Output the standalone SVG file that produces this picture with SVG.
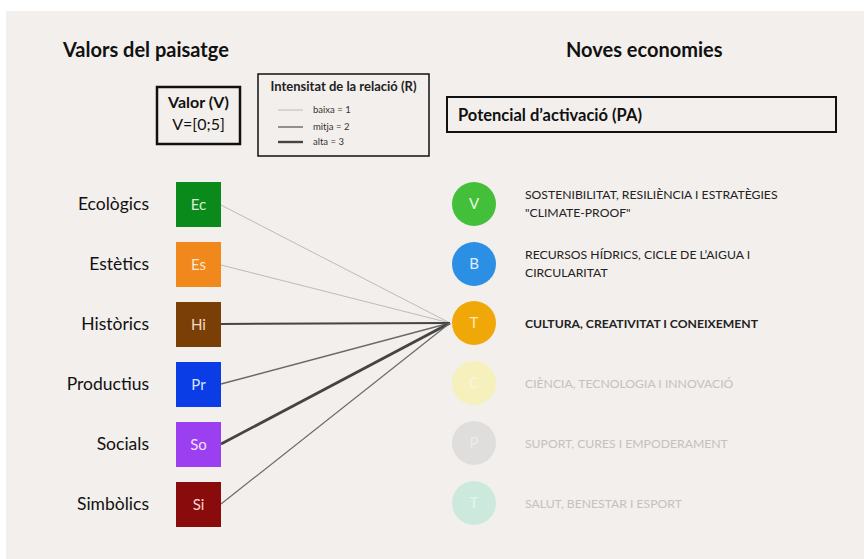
<svg xmlns="http://www.w3.org/2000/svg" width="864" height="559" viewBox="0 0 864 559">
<style>
.bg{fill:#f3efec}
.title{font-family:Lato,"Open Sans",sans-serif;font-weight:bold;font-size:20px;fill:#111}
text.lbl{font-family:Lato,"Open Sans",sans-serif;font-size:17.5px;fill:#111;text-anchor:end}
text.in{font-family:Lato,"Open Sans",sans-serif;font-size:15px;text-anchor:middle}
text.eco{font-family:Lato,"Open Sans",sans-serif;font-size:12.2px;fill:#222}
text.fade{fill:#c4c1bf}
.frame{fill:none;stroke:#111}
.leg{font-family:Lato,"Open Sans",sans-serif;font-size:9.5px;fill:#333}
.c1{stroke:#bdbab8;stroke-width:1;fill:none}
.c2{stroke:#6a6866;stroke-width:1.4;fill:none}
.c3{stroke:#444;stroke-width:2.4;fill:none}
</style>
<rect x="0" y="0" width="864" height="559" fill="#ffffff"/>
<rect class="bg" x="6" y="11" width="858" height="548"/>
<text class="title" x="63" y="57">Valors del paisatge</text>
<text class="title" x="566" y="57">Noves economies</text>
<g id="valor-box">
<rect class="frame" x="157" y="87" width="83" height="57" stroke-width="2.5"/>
<text x="198.5" y="108" font-family="Lato,'Open Sans',sans-serif" font-size="16" font-weight="bold" text-anchor="middle" fill="#111">Valor (V)</text>
<text x="198.5" y="130" font-family="Lato,'Open Sans',sans-serif" font-size="16" text-anchor="middle" fill="#111">V=[0;5]</text>
</g>
<g id="legend">
<rect class="frame" x="258" y="74" width="171" height="82" stroke-width="1.5"/>
<text x="343.5" y="91" font-family="Lato,'Open Sans',sans-serif" font-size="13" font-weight="bold" text-anchor="middle" fill="#222">Intensitat de la relació (R)</text>
<line class="c1" x1="278" y1="110" x2="303" y2="110"/>
<text class="leg" x="313" y="113">baixa = 1</text>
<line class="c2" x1="278" y1="127" x2="303" y2="127"/>
<text class="leg" x="313" y="130">mitja = 2</text>
<line class="c3" x1="278" y1="142" x2="303" y2="142"/>
<text class="leg" x="313" y="145">alta = 3</text>
</g>
<g id="pa-box">
<rect class="frame" x="447" y="97" width="389" height="35" stroke-width="2"/>
<text x="458" y="121" font-family="Lato,'Open Sans',sans-serif" font-size="16.5" font-weight="bold" fill="#111">Potencial d’activació (PA)</text>
</g>
<g id="connectors">
<line class="c1" x1="221" y1="205" x2="450" y2="323"/>
<line class="c1" x1="221" y1="265" x2="450" y2="323"/>
<line class="c3" x1="221" y1="324" x2="450" y2="323" style="stroke-width:2"/>
<line class="c2" x1="221" y1="384" x2="450" y2="323"/>
<line class="c3" x1="221" y1="444" x2="450" y2="323" style="stroke-width:2.8"/>
<line class="c2" x1="221" y1="504" x2="450" y2="323" style="stroke-width:1.2"/>
</g>
<g id="ecologics"><text class="lbl" x="149" y="210">Ecològics</text><rect x="176" y="182" width="45" height="45" fill="#0b8a1c"/><text class="in" x="198.5" y="210" fill="#d8f0d4">Ec</text></g>
<g id="estetics"><text class="lbl" x="149" y="270">Estètics</text><rect x="176" y="242" width="45" height="45" fill="#f0881c"/><text class="in" x="198.5" y="270" fill="#fde6cc">Es</text></g>
<g id="historics"><text class="lbl" x="149" y="330">Històrics</text><rect x="176" y="302" width="45" height="45" fill="#7a3f06"/><text class="in" x="198.5" y="330" fill="#f3dcc6">Hi</text></g>
<g id="productius"><text class="lbl" x="149" y="390">Productius</text><rect x="176" y="362" width="45" height="45" fill="#0b3de6"/><text class="in" x="198.5" y="390" fill="#dce2ff">Pr</text></g>
<g id="socials"><text class="lbl" x="149" y="450">Socials</text><rect x="176" y="422" width="45" height="45" fill="#9b3ff0"/><text class="in" x="198.5" y="450" fill="#f1e2ff">So</text></g>
<g id="simbolics"><text class="lbl" x="149" y="510">Simbòlics</text><rect x="176" y="482" width="45" height="45" fill="#8a0b0b"/><text class="in" x="198.5" y="510" fill="#fcd8d0">Si</text></g>
<g id="eco-v"><circle cx="474" cy="204" r="22" fill="#43bf3a"/><text class="in" x="474" y="209" fill="#e4f7e0">V</text>
<text class="eco" x="525" y="199">SOSTENIBILITAT, RESILIÈNCIA I ESTRATÈGIES</text><text class="eco" x="525" y="217">"CLIMATE-PROOF"</text></g>
<g id="eco-b"><circle cx="474" cy="264" r="22" fill="#2b8fe3"/><text class="in" x="474" y="269" fill="#e0eeff">B</text>
<text class="eco" x="525" y="259">RECURSOS HÍDRICS, CICLE DE L’AIGUA I</text><text class="eco" x="525" y="277">CIRCULARITAT</text></g>
<g id="eco-t"><circle cx="474" cy="323" r="22" fill="#f0a808"/><text class="in" x="474" y="328" fill="#fde9b8">T</text>
<text class="eco" x="525" y="328" font-weight="bold" fill="#111">CULTURA, CREATIVITAT I CONEIXEMENT</text></g>
<g id="eco-c"><circle cx="474" cy="383" r="22" fill="#f6f0bc"/><text class="in" x="474" y="388" fill="#faf6dc">C</text>
<text class="eco fade" x="525" y="388">CIÈNCIA, TECNOLOGIA I INNOVACIÓ</text></g>
<g id="eco-p"><circle cx="474" cy="443" r="22" fill="#e0dedc"/><text class="in" x="474" y="448" fill="#eceae8">P</text>
<text class="eco fade" x="525" y="448">SUPORT, CURES I EMPODERAMENT</text></g>
<g id="eco-s"><circle cx="474" cy="503" r="22" fill="#cbeadd"/><text class="in" x="474" y="508" fill="#e4f5ee">T</text>
<text class="eco fade" x="525" y="508">SALUT, BENESTAR I ESPORT</text></g>
</svg>
